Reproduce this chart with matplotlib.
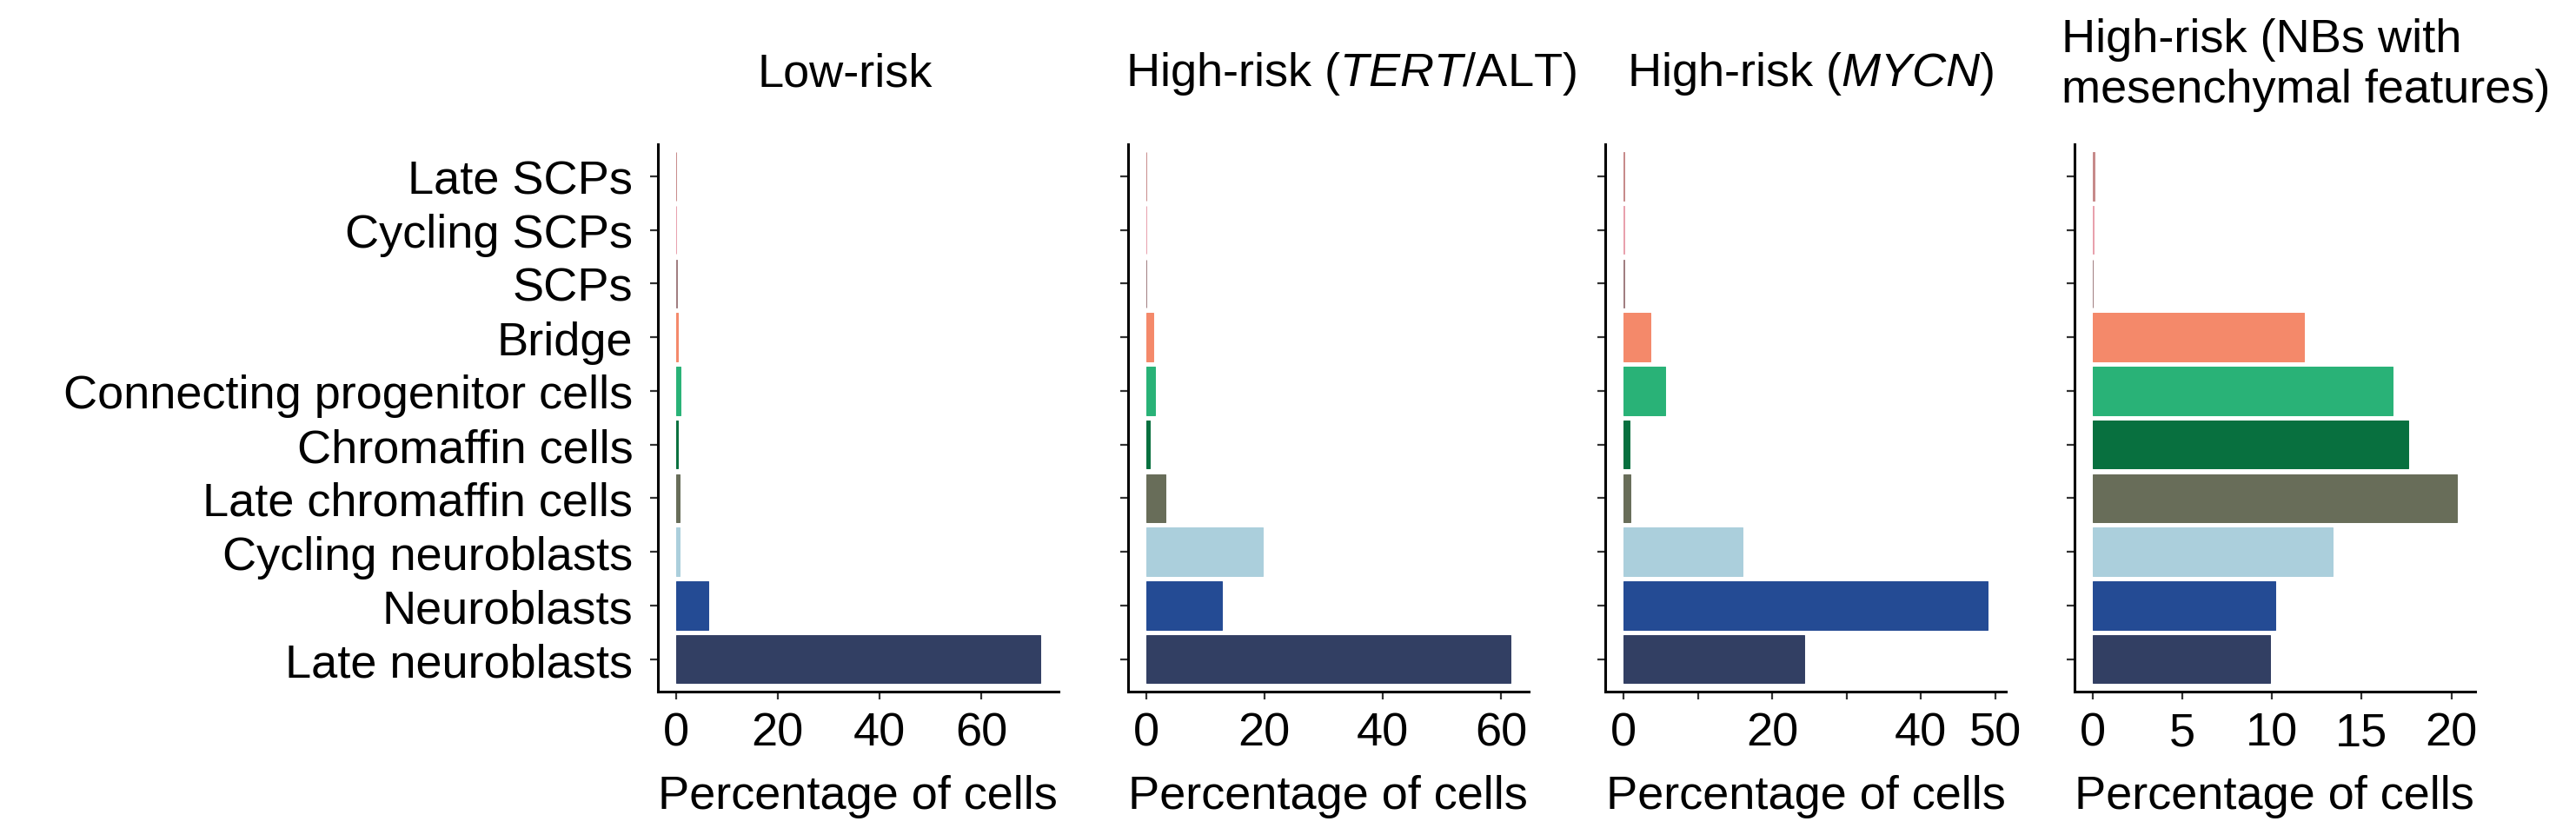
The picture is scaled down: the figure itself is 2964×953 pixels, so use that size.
import matplotlib
matplotlib.use("Agg")
import matplotlib.pyplot as plt
import numpy as np

plt.rcParams['font.family'] = ['Liberation Sans', 'DejaVu Sans']
plt.rcParams['mathtext.fontset'] = 'custom'
plt.rcParams['mathtext.rm'] = 'Liberation Sans'
plt.rcParams['mathtext.it'] = 'Liberation Sans:italic'

# cell types, top to bottom
cell_types = [
    "Late SCPs", "Cycling SCPs", "SCPs", "Bridge",
    "Connecting progenitor cells", "Chromaffin cells", "Late chromaffin cells",
    "Cycling neuroblasts", "Neuroblasts", "Late neuroblasts",
]
cell_colors = [
    "#C78A8A", "#E8A0AC", "#A07C80", "#F4896A",
    "#29B277", "#08703F", "#686D59",
    "#ABCFDC", "#244B94", "#323F63",
]

# percentage of cells per group
low_risk = [0.05, 0.1, 0.15, 0.4, 0.9, 0.4, 0.8, 0.7, 6.4, 71.5]
high_tert = [0.1, 0.05, 0.05, 1.2, 1.6, 0.64, 3.3, 19.7, 12.8, 61.5]
high_mycn = [0.1, 0.12, 0.05, 3.65, 5.6, 0.8, 0.9, 15.95, 49.0, 24.3]
high_mes = [0.1, 0.07, 0.02, 11.8, 16.7, 17.6, 20.3, 13.4, 10.2, 9.9]

titles = ["Low-risk", r"High-risk ($\it{TERT}$/ALT)", r"High-risk ($\it{MYCN}$)",
          "High-risk (NBs with\nmesenchymal features)"]
panel_data = [low_risk, high_tert, high_mycn, high_mes]
xticks = [[0, 20, 40, 60], [0, 20, 40, 60], [0, 10, 20, 30, 40, 50], [0, 5, 10, 15, 20]]
xticklabels = [["0", "20", "40", "60"], ["0", "20", "40", "60"],
               ["0", "", "20", "", "40", "50"], ["0", "5", "10", "15", "20"]]

fs = 19.5
fig = plt.figure(figsize=(14.82, 4.77), dpi=200)
lefts = [0.2553, 0.4378, 0.6232, 0.8053]
width = 0.1555
bottom, height = 0.165, 0.66
title_x = [0.467, 0.557, 0.512, -0.033]

y = np.arange(len(cell_types))
for i, vals in enumerate(panel_data):
    ax = fig.add_axes([lefts[i], bottom, width, height])
    # thin edge in the bar colour so that tiny values still show as a line
    ax.barh(y, vals, height=0.9, color=cell_colors, edgecolor=cell_colors, linewidth=0.35)
    ax.use_sticky_edges = False
    ax.margins(x=0.05, y=0.015)
    ax.invert_yaxis()
    ax.set_yticks(y)
    if i == 0:
        ax.set_yticklabels(cell_types, fontsize=fs)
    else:
        ax.set_yticklabels([])
    ax.set_xticks(xticks[i])
    ax.set_xticklabels(xticklabels[i], fontsize=fs)
    ax.set_xlabel("Percentage of cells", fontsize=fs, labelpad=8)
    for s in ["top", "right"]:
        ax.spines[s].set_visible(False)
    for s in ["left", "bottom"]:
        ax.spines[s].set_linewidth(1.1)
        ax.spines[s].set_color("black")
    ax.tick_params(axis="both", length=3.2, width=0.8, color="#333333")
    ax.tick_params(axis="x", pad=5)
    ax.tick_params(axis="y", pad=7)
    if i < 3:
        ax.text(title_x[i], 1.13, titles[i], transform=ax.transAxes, fontsize=fs,
                ha="center", va="center")
    else:
        ax.text(title_x[i], 1.146, titles[i], transform=ax.transAxes, fontsize=fs,
                ha="left", va="center", multialignment="left")

fig.savefig("out.png", dpi=200)
